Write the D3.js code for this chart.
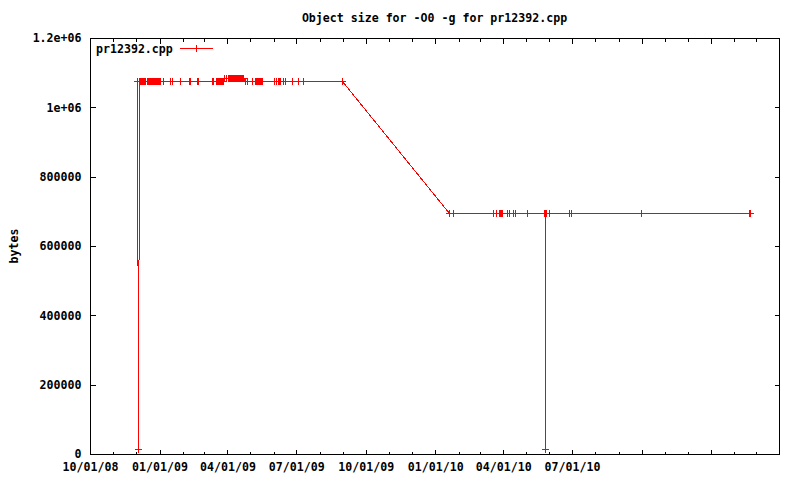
<!DOCTYPE html>
<html lang="en">
	<head>
		<meta charset="utf-8">
		<title>Object size chart</title>
		<script type="text/javascript" src="https://d3js.org/d3.v7.min.js"></script>
		<style type="text/css">
			body {
				margin: 0;
				background: white;
			}
			text {
				font-family: 'DejaVu Sans Mono', monospace;
				font-weight: bold;
				font-size: 11.6px;
				fill: black;
			}
			.axis path.domain { display: none; }
			.axis line { stroke: black; shape-rendering: crispEdges; }
		</style>
	</head>
	<body>
		<div id="chart"></div>
		<script type="text/javascript">

		// sample dates and object size (bytes), same order in both arrays
		var dates = [
			"2008-12-02","2008-12-04","2008-12-05","2008-12-06","2008-12-07","2008-12-08","2008-12-09","2008-12-10","2008-12-11","2008-12-12","2008-12-13",
			"2008-12-16","2008-12-17","2008-12-18","2008-12-19","2008-12-20","2008-12-21","2008-12-22","2008-12-23","2008-12-24","2008-12-25",
			"2008-12-26","2008-12-27","2008-12-28","2008-12-29","2008-12-30","2008-12-31","2009-01-01","2009-01-02",
			"2009-01-05","2009-01-15","2009-01-17","2009-01-28","2009-02-09","2009-02-10","2009-02-11","2009-02-19","2009-02-21","2009-03-11",
			"2009-03-13","2009-03-17","2009-03-18","2009-03-19","2009-03-20","2009-03-21","2009-03-22","2009-03-24","2009-03-25","2009-03-26",
			"2009-03-28","2009-03-30","2009-04-02","2009-04-03","2009-04-04","2009-04-05","2009-04-06","2009-04-07","2009-04-08","2009-04-09",
			"2009-04-10","2009-04-11","2009-04-12","2009-04-13","2009-04-14","2009-04-15","2009-04-16","2009-04-17","2009-04-18","2009-04-19","2009-04-20","2009-04-21","2009-04-22",
			"2009-04-24","2009-04-27","2009-05-03","2009-05-07","2009-05-08","2009-05-09","2009-05-10","2009-05-11","2009-05-12","2009-05-13",
			"2009-05-14","2009-05-15","2009-05-17","2009-06-02","2009-06-04","2009-06-07","2009-06-08","2009-06-09","2009-06-10","2009-06-13",
			"2009-06-14","2009-06-16","2009-06-25","2009-07-03","2009-07-10","2009-08-31",
			"2010-01-19","2010-01-24","2010-03-18","2010-03-23","2010-03-27","2010-03-28","2010-03-29","2010-03-30",
			"2010-04-06","2010-04-09","2010-04-14","2010-04-16","2010-04-17",
			"2010-05-02","2010-05-25","2010-05-26","2010-05-26","2010-05-26","2010-05-28","2010-06-01","2010-06-27","2010-06-30","2010-09-30",
			"2011-02-20","2011-02-21","2011-02-22"
		];
		var bytes = [
			1075000,14500,1075000,1075000,1075000,1075000,1075000,1075000,1075000,1075000,1075000,
			1075000,1075000,1075000,1075000,1075000,1075000,1075000,1075000,1075000,1075000,
			1075000,1075000,1075000,1075000,1075000,1075000,1075000,1075000,
			1075000,1075000,1075000,1075000,1075000,1075000,1075000,1075000,1075000,1075000,
			1075000,1075000,1075000,1075000,1075000,1075000,1075000,1075000,1075000,1075000,
			1085000,1085000,1085000,1085000,1085000,1085000,1085000,1085000,1085000,1085000,
			1085000,1085000,1085000,1085000,1085000,1085000,1085000,1085000,1085000,1085000,1085000,1085000,1085000,
			1075000,1075000,1075000,1075000,1075000,1075000,1075000,1075000,1075000,1075000,
			1075000,1075000,1075000,1075000,1075000,1075000,1075000,1075000,1075000,1075000,
			1075000,1075000,1075000,1075000,1075000,1075000,
			694000,694000,696500,696500,696500,696500,696500,696500,
			696500,696500,696500,696500,696500,
			694000,694000,694000,14500,694000,694000,694000,694000,694000,694000,
			694000,694000,694000
		];

		var yTicks = [0, 200000, 400000, 600000, 800000, 1000000, 1200000];
		var yTickLabels = ["0", "200000", "400000", "600000", "800000", "1e+06", "1.2e+06"];
		var xStart = "2008-10-01", xEnd = "2011-04-01";
		var xLabelCount = 8; // only the first quarters carry a label

		var title = "Object size for -O0 -g for pr12392.cpp";
		var yTitle = "bytes";
		var seriesName = "pr12392.cpp";

		var w = 800, h = 480;
		var margin = {top: 38, right: 21, bottom: 26, left: 90};
		var parse = d3.utcParse("%Y-%m-%d");
		var fmt = d3.utcFormat("%m/%d/%y");

		var data = dates.map(function(d, i) { return {date: parse(d), v: bytes[i]}; });

		var x = d3.scaleUtc()
			.domain([parse(xStart), parse(xEnd)])
			.range([margin.left, w - margin.right]);
		var y = d3.scaleLinear()
			.domain([0, 1200000])
			.range([h - margin.bottom, margin.top]);

		var svg = d3.select("#chart")
			.append("svg")
			.attr("width", w)
			.attr("height", h);

		var major = d3.utcMonth.every(3).range(parse(xStart), d3.utcDay.offset(parse(xEnd), 1));
		var minor = d3.utcMonth.range(parse(xStart), d3.utcDay.offset(parse(xEnd), 1));

		//bottom axis: major + minor, ticks inward
		svg.append("g")
			.attr("class", "axis")
			.attr("transform", "translate(0," + (h - margin.bottom + 0.5) + ")")
			.call(d3.axisBottom(x).tickValues(minor).tickSize(-3).tickFormat(""));
		svg.append("g")
			.attr("class", "axis")
			.attr("transform", "translate(0," + (h - margin.bottom + 0.5) + ")")
			.call(d3.axisBottom(x).tickValues(major).tickSize(-5).tickPadding(8)
				.tickFormat(function(d, i) { return i < xLabelCount ? fmt(d) : ""; }));

		//top mirror
		svg.append("g")
			.attr("class", "axis")
			.attr("transform", "translate(0," + (margin.top + 0.5) + ")")
			.call(d3.axisTop(x).tickValues(minor).tickSize(-3).tickFormat(""));
		svg.append("g")
			.attr("class", "axis")
			.attr("transform", "translate(0," + (margin.top + 0.5) + ")")
			.call(d3.axisTop(x).tickValues(major).tickSize(-5).tickFormat(""));

		//left + right
		svg.append("g")
			.attr("class", "axis")
			.attr("transform", "translate(" + (margin.left + 0.5) + ",0)")
			.call(d3.axisLeft(y).tickValues(yTicks).tickSize(-5).tickPadding(9)
				.tickFormat(function(d, i) { return yTickLabels[i]; }));
		svg.append("g")
			.attr("class", "axis")
			.attr("transform", "translate(" + (w - margin.right + 0.5) + ",0)")
			.call(d3.axisRight(y).tickValues(yTicks).tickSize(-5).tickFormat(""));

		svg.selectAll(".axis text")
			.style("font-family", "'DejaVu Sans Mono', monospace")
			.style("font-size", "11.6px")
			.style("font-weight", "bold");

		//frame
		svg.append("rect")
			.attr("x", margin.left + 0.5)
			.attr("y", margin.top + 0.5)
			.attr("width", w - margin.left - margin.right)
			.attr("height", h - margin.top - margin.bottom)
			.attr("fill", "none")
			.attr("stroke", "black")
			.attr("shape-rendering", "crispEdges");

		//title and y label
		svg.append("text")
			.attr("x", (margin.left + w - margin.right) / 2)
			.attr("y", 22)
			.attr("text-anchor", "middle")
			.text(title);
		svg.append("text")
			.attr("transform", "translate(18," + ((margin.top + h - margin.bottom) / 2) + ") rotate(-90)")
			.attr("text-anchor", "middle")
			.text(yTitle);

		//series line
		var line = d3.line()
			.x(function(d) { return Math.round(x(d.date)) + 0.5; })
			.y(function(d) { return Math.round(y(d.v)) + 0.5; });

		svg.append("path")
			.datum(data)
			.attr("d", line)
			.attr("fill", "none")
			.attr("stroke", "red")
			.attr("stroke-width", 1)
			.attr("shape-rendering", "crispEdges");

		function plus(px, py) {
			var cx = Math.round(px) + 0.5, cy = Math.round(py) + 0.5;
			return "M" + (cx - 3.5) + "," + cy + "h7M" + cx + "," + (cy - 3.5) + "v7";
		}

		svg.selectAll("path.pt")
			.data(data)
			.enter()
			.append("path")
			.attr("class", "pt")
			.attr("d", function(d) { return plus(x(d.date), y(d.v)); })
			.attr("stroke", "red")
			.attr("stroke-width", 1)
			.attr("shape-rendering", "crispEdges");

		//legend
		svg.append("text")
			.attr("x", 96)
			.attr("y", 53)
			.text(seriesName);
		svg.append("line")
			.attr("x1", 180).attr("x2", 213)
			.attr("y1", 48.5).attr("y2", 48.5)
			.attr("stroke", "red")
			.attr("shape-rendering", "crispEdges");
		svg.append("path")
			.attr("d", plus(196, 48))
			.attr("stroke", "red")
			.attr("shape-rendering", "crispEdges");

		</script>
	</body>
</html>
